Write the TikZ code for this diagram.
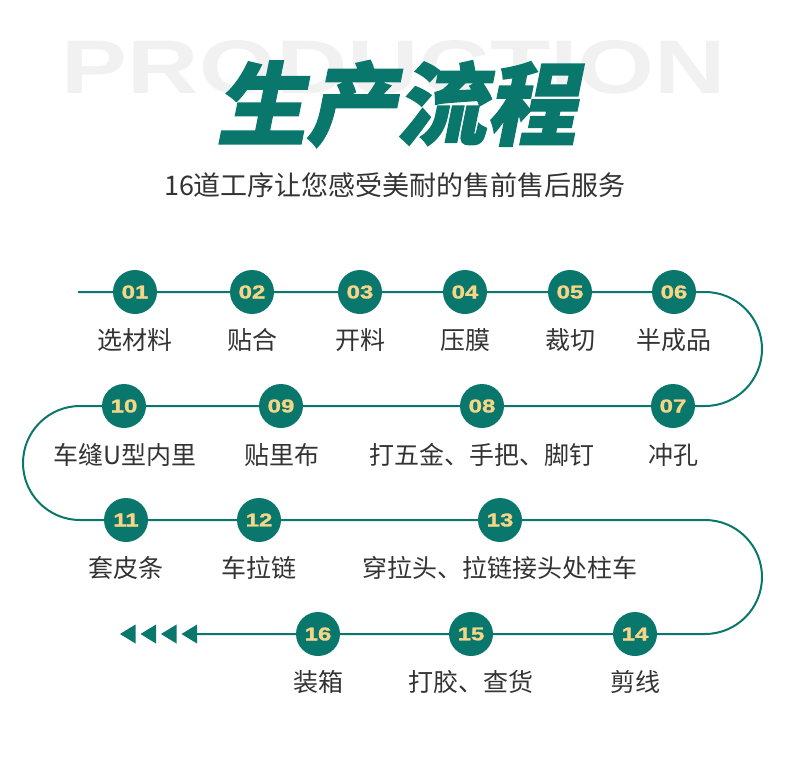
\documentclass[tikz,border=0pt]{standalone}
\usepackage{fontspec}
\setmainfont{Noto Sans CJK SC}
\newfontfamily\titlefont[FakeSlant=0.2, FakeBold=1.5]{Noto Sans CJK SC}
\newfontfamily\numfont[FakeStretch=1.3, FakeBold=1.5]{Liberation Sans}
\newfontfamily\ghostfont[FakeStretch=1.3]{Liberation Sans}
\definecolor{procgreen}{HTML}{0A776D}
\definecolor{numyellow}{HTML}{F6D686}
\definecolor{textgray}{HTML}{333333}
\definecolor{ghostgray}{HTML}{F1F1F1}

\begin{document}
\begin{tikzpicture}[
            x=1pt, y=-1pt,
            stepdot/.style={circle, fill=procgreen, minimum size=44pt, inner sep=0pt, text=numyellow,
                font=\numfont\bfseries\fontsize{18.5}{18.5}\selectfont},
            steplabel/.style={inner sep=0pt, text=textgray, font=\fontsize{25}{25}\selectfont},
            flow/.style={draw=procgreen, line width=2pt},
            tip/.style={fill=procgreen}
        ]
        \useasboundingbox (0,0) rectangle (790,761);

        % Heading
        \node[inner sep=0pt, text=ghostgray, font=\ghostfont\bfseries\fontsize{76}{76}\selectfont] (ghost) at (394,67) {PRODUCTION};
        \node[inner sep=0pt, text=procgreen, font=\titlefont\bfseries\fontsize{90}{90}\selectfont] (title) at (396,104) {生产流程};
        \node[inner sep=0pt, text=textgray, font=\fontsize{27}{27}\selectfont] (subtitle) at (395,185) {16道工序让您感受美耐的售前售后服务};

        % First row
        \node[stepdot] (c01) at (135,292) {01};
        \node[stepdot] (c02) at (252,292) {02};
        \node[stepdot] (c03) at (360,292) {03};
        \node[stepdot] (c04) at (465,292) {04};
        \node[stepdot] (c05) at (570,292) {05};
        \node[stepdot] (c06) at (674,292) {06};
        \node[steplabel] (l01) at (135,340) {选材料};
        \node[steplabel] (l02) at (252,340) {贴合};
        \node[steplabel] (l03) at (360,340) {开料};
        \node[steplabel] (l04) at (465,340) {压膜};
        \node[steplabel] (l05) at (570,340) {裁切};
        \node[steplabel] (l06) at (674,340) {半成品};

        % Second row
        \node[stepdot] (c07) at (673,406) {07};
        \node[stepdot] (c08) at (482,406) {08};
        \node[stepdot] (c09) at (281,406) {09};
        \node[stepdot] (c10) at (124,406) {10};
        \node[steplabel] (l07) at (673,455) {冲孔};
        \node[steplabel] (l08) at (482,455) {打五金、手把、脚钉};
        \node[steplabel] (l09) at (282,455) {贴里布};
        \node[steplabel] (l10) at (125,455) {车缝U型内里};

        % Third row
        \node[stepdot] (c11) at (126,520) {11};
        \node[stepdot] (c12) at (259,520) {12};
        \node[stepdot] (c13) at (500,520) {13};
        \node[steplabel] (l11) at (126,568) {套皮条};
        \node[steplabel] (l12) at (259,568) {车拉链};
        \node[steplabel] (l13) at (500,568) {穿拉头、拉链接头处柱车};

        % Fourth row
        \node[stepdot] (c14) at (635,634) {14};
        \node[stepdot] (c15) at (471,634) {15};
        \node[stepdot] (c16) at (318,634) {16};
        \node[steplabel] (l14) at (635,682) {剪线};
        \node[steplabel] (l15) at (471,682) {打胶、查货};
        \node[steplabel] (l16) at (318,682) {装箱};

        % Flow line
        \coordinate (start) at (78,292);
        \coordinate (r1) at (705,292);
        \coordinate (l2) at (80,406);
        \coordinate (r3) at (705,520);
        \coordinate (arrowend) at (196,634);
        \draw[flow] (start) -- (c01) -- (c02) -- (c03) -- (c04) -- (c05) -- (c06) -- (r1)
            arc[start angle=-90, end angle=90, radius=57] -- (c07) -- (c08) -- (c09) -- (c10) -- (l2)
            arc[start angle=-90, end angle=-270, radius=57] -- (c11) -- (c12) -- (c13) -- (r3)
            arc[start angle=-90, end angle=90, radius=57] -- (c14) -- (c15) -- (c16) -- (arrowend);

        % End arrows
        \foreach \tx in {120,140.5,161,181.5}
            \fill[tip] (\tx,634) -- ++(15.5,-9.5) -- ++(0,19) -- cycle;

        \end{tikzpicture}
\end{document}
